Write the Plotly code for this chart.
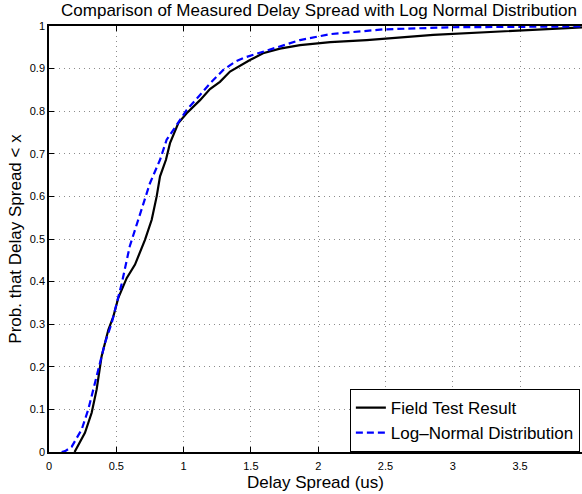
import plotly.graph_objects as go

# Field Test Result (measured CDF)
field_x = [0.19, 0.23, 0.267, 0.317, 0.354, 0.391, 0.416, 0.441, 0.478, 0.515, 0.577, 0.639,
           0.713, 0.763, 0.80, 0.825, 0.869, 0.899, 0.961, 1.023, 1.122, 1.196, 1.27, 1.345,
           1.493, 1.59, 1.716, 1.865, 2.09, 2.36, 2.855, 3.35, 3.5, 3.96]
field_y = [0.0, 0.022, 0.045, 0.092, 0.147, 0.225, 0.256, 0.287, 0.318, 0.362, 0.408, 0.44,
           0.498, 0.545, 0.60, 0.647, 0.686, 0.725, 0.772, 0.795, 0.826, 0.852, 0.869, 0.893,
           0.92, 0.936, 0.947, 0.955, 0.962, 0.967, 0.979, 0.987, 0.988, 0.997]

# Log-Normal Distribution fit
logn_x = [0.094, 0.12, 0.168, 0.243, 0.292, 0.354, 0.416, 0.466, 0.515, 0.54, 0.60, 0.676,
          0.75, 0.825, 0.874, 0.924, 1.023, 1.122, 1.196, 1.295, 1.382, 1.444, 1.59, 1.74,
          1.865, 2.09, 2.48, 2.98, 3.5, 3.96]
logn_y = [0.0, 0.002, 0.012, 0.053, 0.1, 0.178, 0.256, 0.303, 0.365, 0.395, 0.483, 0.561,
          0.631, 0.686, 0.733, 0.756, 0.803, 0.838, 0.865, 0.897, 0.916, 0.925, 0.94, 0.955,
          0.967, 0.981, 0.992, 0.997, 0.998, 0.999]

x_ticks = [0, 0.5, 1, 1.5, 2, 2.5, 3, 3.5]
x_ticklabels = ["0", "0.5", "1", "1.5", "2", "2.5", "3", "3.5"]
y_ticks = [0, 0.1, 0.2, 0.3, 0.4, 0.5, 0.6, 0.7, 0.8, 0.9, 1]
y_ticklabels = ["0", "0.1", "0.2", "0.3", "0.4", "0.5", "0.6", "0.7", "0.8", "0.9", "1"]

FONT = "Liberation Sans, Arial, Helvetica, sans-serif"

fig = go.Figure()
fig.add_trace(go.Scatter(x=field_x, y=field_y, mode="lines", name="Field Test Result",
                         line=dict(color="black", width=2.2)))
fig.add_trace(go.Scatter(x=logn_x, y=logn_y, mode="lines", name="Log\u2013Normal Distribution",
                         line=dict(color="#0000ff", width=2.2, dash="7px,4px")))

fig.update_layout(
    width=582, height=494,
    margin=dict(l=49, r=0, t=26, b=42),
    paper_bgcolor="white", plot_bgcolor="white",
    font=dict(family=FONT, color="black", size=11),
    title=dict(text="Comparison of Measured Delay Spread with Log Normal Distribution",
               x=319 / 582, xanchor="center", xref="container",
               y=1 - 4 / 494, yanchor="top", yref="container",
               font=dict(family=FONT, size=17, color="black")),
    showlegend=True,
    legend=dict(x=0.996, y=0.0, xanchor="right", yanchor="bottom",
                bgcolor="white", bordercolor="black", borderwidth=1,
                font=dict(family=FONT, size=17, color="black"),
                tracegroupgap=0, itemwidth=30),
)
fig.update_xaxes(range=[0, 3.96], tickvals=x_ticks, ticktext=x_ticklabels,
                 showgrid=True, gridcolor="#8c8c8c", griddash="1px,4px", gridwidth=1,
                 showline=True, linecolor="black", linewidth=1.5, mirror="ticks",
                 ticks="inside", ticklen=5, tickcolor="black", automargin=False,
                 ticklabelstandoff=3,
                 zeroline=False, tickfont=dict(size=11),
                 title=dict(text="Delay Spread (us)", font=dict(size=17), standoff=5))
fig.update_yaxes(range=[0, 1], tickvals=y_ticks, ticktext=y_ticklabels,
                 showgrid=True, gridcolor="#8c8c8c", griddash="1px,4px", gridwidth=1,
                 showline=True, linecolor="black", linewidth=1.5, mirror=False,
                 ticks="inside", ticklen=5, tickcolor="black", automargin=False,
                 zeroline=False, tickfont=dict(size=11),
                 title=dict(text="Prob. that Delay Spread < x", font=dict(size=17), standoff=4))

fig.write_html("out.html", config={"displayModeBar": False},
               post_script="document.body.style.margin='0';")
